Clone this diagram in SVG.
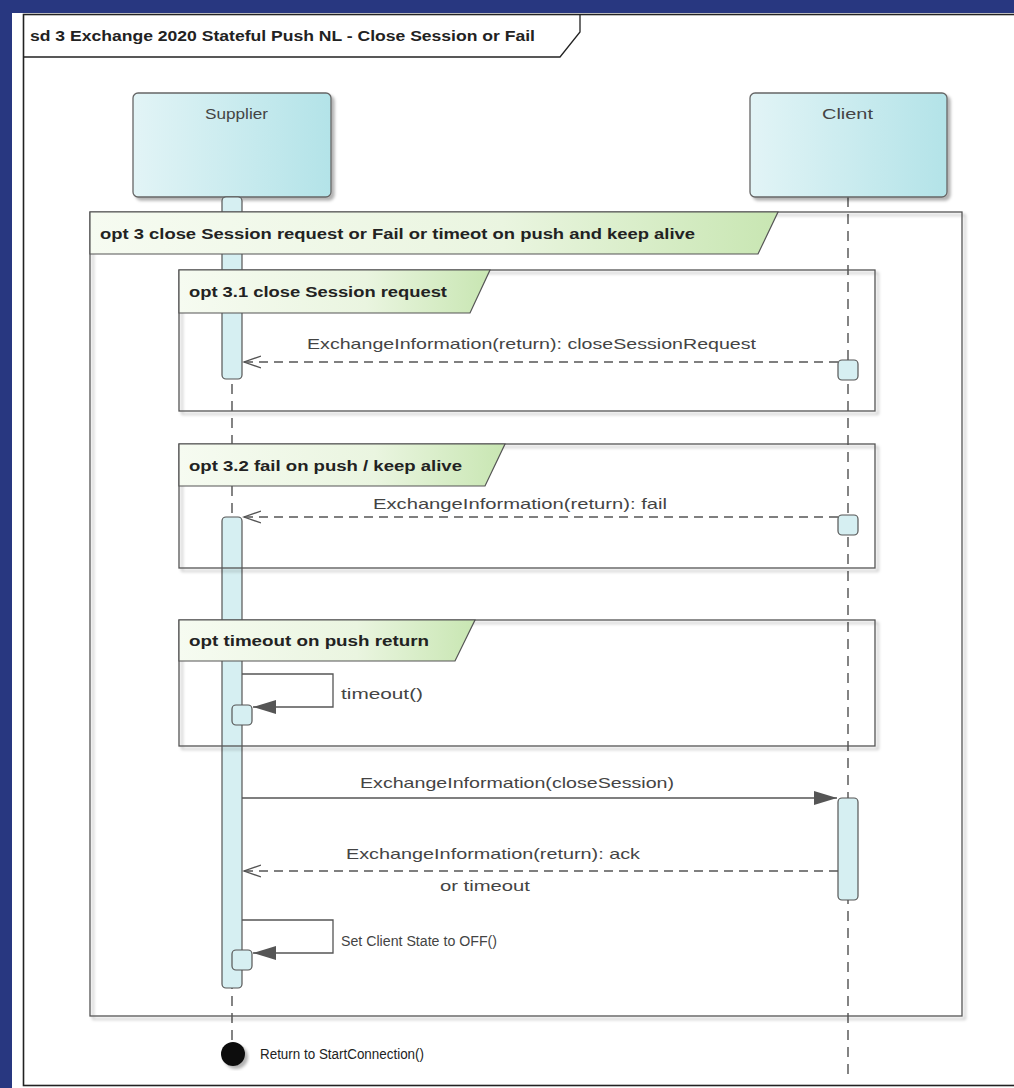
<svg xmlns="http://www.w3.org/2000/svg" width="1014" height="1088" viewBox="0 0 1014 1088">
<style>
.lbl{font-family:"Liberation Sans",Arial,sans-serif;font-size:15px;fill:#444}
.flbl{font-family:"Liberation Sans",Arial,sans-serif;font-size:14px;font-weight:bold;fill:#222}
.tab{fill:url(#tabg);stroke:#555;stroke-width:1.2}
.life{stroke:#333;stroke-width:1.2;stroke-dasharray:10,7;fill:none}
.act{fill:#d6eff2;stroke:#555;stroke-width:1.2}
.msg{stroke:#555;stroke-width:1.3;fill:none}
.ret{stroke:#555;stroke-width:1.3;fill:none;stroke-dasharray:9,6}
</style>
<defs>
<linearGradient id="boxg" x1="0" y1="0" x2="1" y2="0">
<stop offset="0" stop-color="#e2f4f6"/><stop offset="1" stop-color="#b3e3e8"/>
</linearGradient>
<linearGradient id="tabg" x1="0" y1="0" x2="1" y2="0">
<stop offset="0" stop-color="#f6fbf1"/><stop offset="0.6" stop-color="#eaf5e0"/><stop offset="1" stop-color="#c8e6b2"/>
</linearGradient>
<filter id="sh" x="-10%" y="-10%" width="130%" height="130%">
<feDropShadow dx="3" dy="3" stdDeviation="1.5" flood-color="#000" flood-opacity="0.3"/>
</filter>
<marker id="open" markerWidth="20" markerHeight="14" refX="17" refY="7" orient="auto" markerUnits="userSpaceOnUse">
<path d="M0,1 L17,7 L0,13" fill="none" stroke="#555" stroke-width="1.3"/>
</marker>
<marker id="fill" markerWidth="24" markerHeight="16" refX="23" refY="8" orient="auto" markerUnits="userSpaceOnUse">
<path d="M0,1 L23,8 L0,15 Z" fill="#555"/>
</marker>
</defs>

<rect x="0" y="0" width="1014" height="1088" fill="#283780"/>
<rect x="12" y="13" width="1002" height="1075" fill="#fff"/>

<g id="diagram-frame">
<rect x="23.5" y="14.5" width="1000" height="1071" fill="none" stroke="#222" stroke-width="1.6"/>
<path d="M23.5,57 L560,57 L580,32 L580,14.5" fill="none" stroke="#222" stroke-width="1.3"/>
<text class="flbl" x="30" y="41" textLength="505" lengthAdjust="spacingAndGlyphs">sd 3 Exchange 2020 Stateful Push NL - Close Session or Fail</text>
</g>

<g id="lifelines">
<line class="life" x1="232" y1="197" x2="232" y2="1042"/>
<line class="life" x1="848" y1="197" x2="848" y2="1078"/>
</g>

<g id="supplier">
<rect x="133" y="93" width="198" height="104" rx="5" fill="url(#boxg)" stroke="#666" stroke-width="1.3" filter="url(#sh)"/>
<text class="lbl" x="205" y="119" textLength="63" lengthAdjust="spacingAndGlyphs">Supplier</text>
</g>
<g id="client">
<rect x="750" y="93" width="197" height="104" rx="5" fill="url(#boxg)" stroke="#666" stroke-width="1.3" filter="url(#sh)"/>
<text class="lbl" x="822" y="119" textLength="51" lengthAdjust="spacingAndGlyphs">Client</text>
</g>

<g id="activations">
<rect class="act" x="222" y="197" width="20" height="182" rx="4"/>
<rect class="act" x="222" y="517" width="20" height="471" rx="4"/>
<rect class="act" x="838" y="798" width="20" height="102" rx="4"/>
</g>

<g id="opt3">
<rect x="90" y="212" width="872" height="804" fill="none" stroke="#555" stroke-width="1.3" filter="url(#sh)"/>
<path class="tab" d="M90,212 L778,212 L758,254 L90,254 Z"/>
<text class="flbl" x="100" y="239" textLength="595" lengthAdjust="spacingAndGlyphs">opt 3 close Session request or Fail or timeot on push and  keep alive</text>
</g>

<g id="opt31">
<rect x="179" y="270" width="696" height="141" fill="none" stroke="#555" stroke-width="1.3" filter="url(#sh)"/>
<path class="tab" d="M179,270 L490,270 L470,313 L179,313 Z"/>
<text class="flbl" x="189" y="297" textLength="258" lengthAdjust="spacingAndGlyphs">opt 3.1 close Session request</text>
</g>

<g id="opt32">
<rect x="179" y="444" width="696" height="124" fill="none" stroke="#555" stroke-width="1.3" filter="url(#sh)"/>
<path class="tab" d="M179,444 L505,444 L485,486 L179,486 Z"/>
<text class="flbl" x="189" y="471" textLength="273" lengthAdjust="spacingAndGlyphs">opt 3.2 fail on push / keep alive</text>
</g>

<g id="optTimeout">
<rect x="179" y="620" width="696" height="126" fill="none" stroke="#555" stroke-width="1.3" filter="url(#sh)"/>
<path class="tab" d="M179,620 L475,620 L455,661 L179,661 Z"/>
<text class="flbl" x="189" y="646" textLength="240" lengthAdjust="spacingAndGlyphs">opt timeout on push return</text>
</g>

<g id="small-activations">
<rect class="act" x="838" y="360" width="20" height="20" rx="4"/>
<rect class="act" x="838" y="515" width="20" height="20" rx="4"/>
<rect class="act" x="232" y="705" width="20" height="20" rx="4"/>
<rect class="act" x="232" y="950" width="20" height="20" rx="4"/>
</g>

<g id="connectors">
<line class="ret" x1="838" y1="362" x2="244" y2="362" marker-end="url(#open)"/>
<text class="lbl" x="307" y="349" textLength="449" lengthAdjust="spacingAndGlyphs">ExchangeInformation(return): closeSessionRequest</text>

<line class="ret" x1="838" y1="517" x2="244" y2="517" marker-end="url(#open)"/>
<text class="lbl" x="373" y="509" textLength="294" lengthAdjust="spacingAndGlyphs">ExchangeInformation(return): fail</text>

<path class="msg" d="M242,674 L333,674 L333,707 L253,707" marker-end="url(#fill)"/>
<text class="lbl" x="341" y="699" textLength="82" lengthAdjust="spacingAndGlyphs">timeout()</text>

<line class="msg" x1="242" y1="798" x2="837" y2="798" marker-end="url(#fill)"/>
<text class="lbl" x="360" y="788" textLength="314" lengthAdjust="spacingAndGlyphs">ExchangeInformation(closeSession)</text>

<line class="ret" x1="838" y1="871" x2="244" y2="871" marker-end="url(#open)"/>
<text class="lbl" x="346" y="859" textLength="294" lengthAdjust="spacingAndGlyphs">ExchangeInformation(return): ack</text>
<text class="lbl" x="440" y="891" textLength="90" lengthAdjust="spacingAndGlyphs">or timeout</text>

<path class="msg" d="M242,920 L333,920 L333,953 L253,953" marker-end="url(#fill)"/>
<text class="lbl" x="341" y="946" style="font-size:14px" textLength="156" lengthAdjust="spacingAndGlyphs">Set Client State to OFF()</text>
</g>

<g id="final">
<circle cx="233" cy="1054" r="12" fill="#111" filter="url(#sh)"/>
<text class="lbl" x="260" y="1059" style="fill:#222;font-size:14px" textLength="164" lengthAdjust="spacingAndGlyphs">Return to StartConnection()</text>
</g>
</svg>
